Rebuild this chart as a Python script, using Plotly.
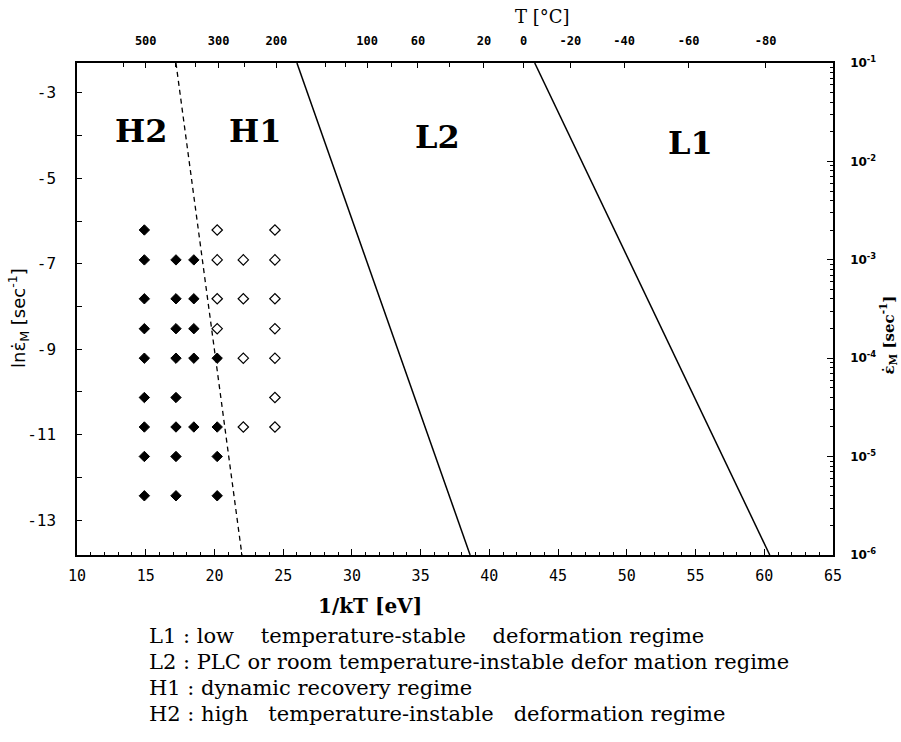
import plotly.graph_objects as go

# ---------------- axis definitions ----------------
x_range = [10, 65]                       # 1/kT [eV]
y_range = [-13.8155, -2.3026]            # ln(rate): ln(1e-6) .. ln(1e-1)
rate_range_log = [-6, -1]                # log10 of rate for right axis

bottom_tickvals = [10, 15, 20, 25, 30, 35, 40, 45, 50, 55, 60, 65]
bottom_ticktext = ["10", "15", "20", "25", "30", "35", "40", "45", "50", "55", "60", "65"]

left_tickvals = [-3, -5, -7, -9, -11, -13]
left_ticktext = ["-3", "-5", "-7", "-9", "-11", "-13"]
left_minor = [-4, -6, -8, -10, -12]

top_tickvals = [15.0, 20.3, 24.5, 31.1, 34.8, 39.6, 42.5, 45.9, 49.8, 54.5, 60.1]
top_ticktext = ["500", "300", "200", "100", "60", "20", "0", "-20", "-40", "-60", "-80"]
top_minor = [13.4, 17.2, 18.6, 22.2, 28.1, 29.5, 32.9, 37.1]

right_tickvals = [1e-6, 1e-5, 1e-4, 1e-3, 1e-2, 1e-1]
right_ticktext = ["10<sup>-6</sup>", "10<sup>-5</sup>", "10<sup>-4</sup>",
                  "10<sup>-3</sup>", "10<sup>-2</sup>", "10<sup>-1</sup>"]
right_minor = [m * d for d in [1e-6, 1e-5, 1e-4, 1e-3, 1e-2] for m in range(2, 10)]

# ---------------- data ----------------
filled_x = [14.9,
            14.9, 17.2, 18.5,
            14.9, 17.2, 18.5,
            14.9, 17.2, 18.5,
            14.9, 17.2, 18.5, 20.2,
            14.9, 17.2,
            14.9, 17.2, 18.5, 20.2,
            14.9, 17.2, 20.2,
            14.9, 17.2, 20.2]
filled_y = [-6.21,
            -6.91, -6.91, -6.91,
            -7.82, -7.82, -7.82,
            -8.52, -8.52, -8.52,
            -9.21, -9.21, -9.21, -9.21,
            -10.13, -10.13,
            -10.82, -10.82, -10.82, -10.82,
            -11.51, -11.51, -11.51,
            -12.43, -12.43, -12.43]

open_x = [20.2, 24.4,
          20.2, 22.1, 24.4,
          20.2, 22.1, 24.4,
          20.2, 24.4,
          22.1, 24.4,
          24.4,
          22.1, 24.4]
open_y = [-6.21, -6.21,
          -6.91, -6.91, -6.91,
          -7.82, -7.82, -7.82,
          -8.52, -8.52,
          -9.21, -9.21,
          -10.13,
          -10.82, -10.82]

# regime boundaries: x at top edge, x at bottom edge
boundary_h_x = [17.2, 22.0]
boundary_l2_x = [26.0, 38.6]
boundary_l1_x = [43.3, 60.4]
boundary_y = [y_range[1], y_range[0]]

region_labels = ["H2", "H1", "L2", "L1"]
region_x = [14.7, 23.0, 36.2, 54.6]
region_y = [-3.9, -3.9, -4.03, -4.17]

NB = "\u00a0"
legend_lines = [
    "L1 : low " + NB * 3 + "temperature-stable " + NB * 3 + "deformation regime",
    "L2 : PLC or room temperature-instable defor mation regime",
    "H1 : dynamic recovery regime",
    "H2 : high " + NB * 2 + "temperature-instable " + NB * 2 + "deformation regime",
]

fig = go.Figure()

line_style = dict(color="black", width=1.5)
fig.add_trace(go.Scatter(x=boundary_h_x, y=boundary_y, mode="lines",
                         line=dict(color="black", width=1.3, dash="5px,4px"),
                         showlegend=False, hoverinfo="skip"))
fig.add_trace(go.Scatter(x=boundary_l2_x, y=boundary_y, mode="lines",
                         line=line_style, showlegend=False, hoverinfo="skip"))
fig.add_trace(go.Scatter(x=boundary_l1_x, y=boundary_y, mode="lines",
                         line=line_style, showlegend=False, hoverinfo="skip"))

fig.add_trace(go.Scatter(x=filled_x, y=filled_y, mode="markers",
                         marker=dict(symbol="diamond", size=8, color="black",
                                     line=dict(color="black", width=1)),
                         showlegend=False))
fig.add_trace(go.Scatter(x=open_x, y=open_y, mode="markers",
                         marker=dict(symbol="diamond-open", size=8, color="black",
                                     line=dict(color="black", width=1.2)),
                         showlegend=False))

# invisible anchors for secondary axes
fig.add_trace(go.Scatter(x=x_range, y=y_range, xaxis="x2", yaxis="y", mode="markers",
                         marker=dict(opacity=0), showlegend=False, hoverinfo="skip"))
fig.add_trace(go.Scatter(x=x_range, y=[10 ** v for v in rate_range_log], xaxis="x", yaxis="y2",
                         mode="markers", marker=dict(opacity=0), showlegend=False,
                         hoverinfo="skip"))

axis_common = dict(showline=True, linecolor="black", linewidth=1.5, showgrid=False,
                   zeroline=False, ticks="inside", tickcolor="black", tickwidth=1)

fig.update_layout(
    width=901, height=742,
    margin=dict(l=77, r=68, t=63, b=187),
    paper_bgcolor="white", plot_bgcolor="white",
    xaxis=dict(range=x_range, tickmode="array", tickvals=bottom_tickvals,
               ticktext=bottom_ticktext, ticklen=6, ticklabelstandoff=6,
               tickfont=dict(family="DejaVu Sans Mono", size=15, color="black"),
               minor=dict(ticks="inside", dtick=1, ticklen=3, tickcolor="black"),
               **axis_common),
    xaxis2=dict(range=x_range, overlaying="x", side="top", anchor="y",
                tickmode="array", tickvals=top_tickvals, ticktext=top_ticktext,
                ticklen=5, ticklabelstandoff=11,
                tickfont=dict(family="DejaVu Sans Mono", size=12, color="black",
                              weight="bold"),
                minor=dict(ticks="inside", tickvals=top_minor, ticklen=4, tickcolor="black"),
                **axis_common),
    yaxis=dict(range=y_range, tickmode="array", tickvals=left_tickvals,
               ticktext=left_ticktext, ticklen=5, ticklabelstandoff=16,
               tickfont=dict(family="DejaVu Sans Mono", size=16, color="black"),
               minor=dict(ticks="inside", tickvals=left_minor, ticklen=5, tickcolor="black"),
               **axis_common),
    yaxis2=dict(type="log", range=rate_range_log, overlaying="y", side="right", anchor="x",
                tickmode="array", tickvals=right_tickvals, ticktext=right_ticktext,
                ticklen=6, ticklabelstandoff=13,
                tickfont=dict(family="DejaVu Sans", size=12, color="black", weight="bold"),
                minor=dict(ticks="inside", tickvals=right_minor, ticklen=3, tickcolor="black"),
                **axis_common),
)

# region labels
for lab, rx, ry in zip(region_labels, region_x, region_y):
    fig.add_annotation(x=rx, y=ry, xref="x", yref="y", text="<b>%s</b>" % lab,
                       showarrow=False, xanchor="center", yanchor="middle",
                       font=dict(family="DejaVu Serif", size=32, color="black"))

# axis titles
fig.add_annotation(x=0.616, y=1.0955, xref="paper", yref="paper", text="T [°C]",
                   showarrow=False, xanchor="center", yanchor="middle",
                   font=dict(family="DejaVu Serif", size=18, color="black"))
fig.add_annotation(x=0.3876, y=-0.1037, xref="paper", yref="paper", text="<b>1/kT [eV]</b>",
                   showarrow=False, xanchor="center", yanchor="middle",
                   font=dict(family="DejaVu Serif", size=20, color="black"))
fig.add_annotation(x=-0.078, y=0.482, xref="paper", yref="paper", textangle=-90,
                   text="lnε̇<sub>M</sub> [sec<sup>-1</sup>]", showarrow=False,
                   xanchor="center", yanchor="middle",
                   font=dict(family="DejaVu Sans", size=18, color="black"))
fig.add_annotation(x=1.072, y=0.447, xref="paper", yref="paper", textangle=-90,
                   text="<b>ε̇<sub>M</sub> [sec<sup>-1</sup>]</b>", showarrow=False,
                   xanchor="center", yanchor="middle",
                   font=dict(family="DejaVu Serif", size=15, color="black"))

# explanation lines
legend_y = [-0.1646, -0.2175, -0.2703, -0.3232]
for txt, ly in zip(legend_lines, legend_y):
    fig.add_annotation(x=0.0926, y=ly, xref="paper", yref="paper", text=txt,
                       xanchor="left", yanchor="middle", showarrow=False,
                       font=dict(family="DejaVu Serif", size=21, color="black"))

fig.write_html("out.html")
